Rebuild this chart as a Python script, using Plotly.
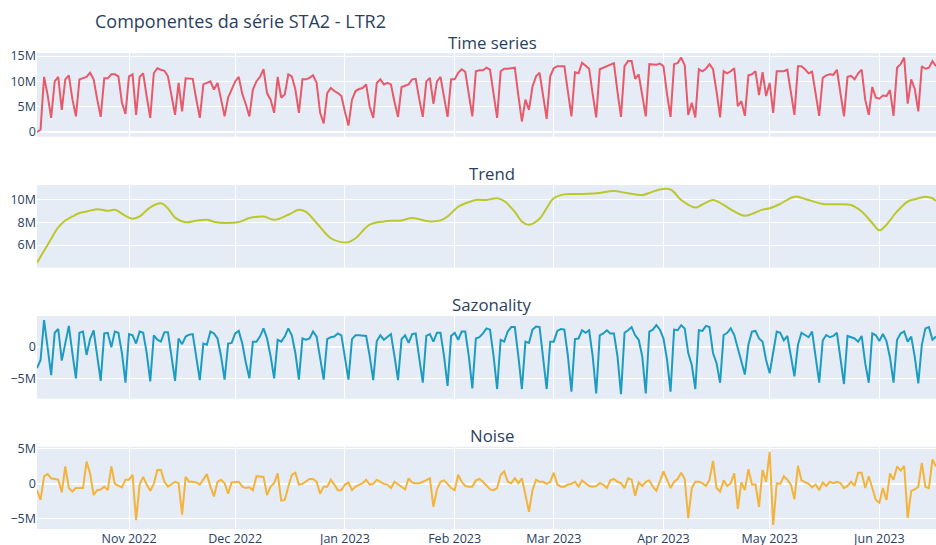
import pandas as pd
import plotly.graph_objects as go
from plotly.subplots import make_subplots

# Daily decomposition of the STA2 - LTR2 series (values in millions)
start_date = "2022-10-06"

observed = [
    0.0, 0.5, 10.9, 7.3, 2.8, 10.0, 10.9, 4.4, 10.4, 11.2,
    6.5, 3.1, 10.4, 10.7, 10.9, 11.7, 10.4, 6.5, 3.0, 10.6,
    10.6, 11.4, 11.4, 11.0, 5.8, 3.6, 11.0, 11.4, 3.4, 10.9,
    11.6, 7.0, 2.8, 11.6, 12.6, 12.3, 12.1, 11.0, 7.0, 3.4,
    9.7, 4.1, 10.6, 10.5, 10.5, 6.5, 2.8, 9.4, 9.7, 10.0,
    8.4, 9.7, 6.5, 3.1, 6.8, 8.4, 10.0, 10.9, 7.5, 5.5,
    3.1, 8.4, 10.0, 10.9, 12.4, 7.7, 6.4, 3.8, 10.9, 6.8,
    7.4, 11.4, 11.0, 8.4, 3.8, 10.4, 10.4, 10.7, 11.2, 9.7,
    3.8, 1.7, 7.7, 8.7, 8.1, 7.7, 7.1, 4.0, 1.3, 6.4,
    8.1, 8.5, 8.7, 9.4, 5.0, 2.8, 9.7, 10.4, 9.4, 9.7,
    9.4, 6.0, 3.0, 8.9, 9.2, 9.4, 10.4, 10.5, 6.5, 3.0,
    10.0, 10.7, 5.6, 10.0, 10.9, 7.0, 3.0, 10.4, 10.4, 11.7,
    12.4, 11.9, 7.0, 3.1, 12.0, 12.2, 12.2, 12.7, 12.3, 7.5,
    2.8, 12.0, 12.5, 12.5, 12.6, 12.7, 7.2, 2.1, 6.4, 4.4,
    9.0, 11.0, 11.7, 7.0, 2.6, 11.0, 12.6, 13.0, 13.0, 13.0,
    8.0, 3.1, 11.8, 11.6, 13.7, 13.0, 12.5, 7.5, 2.9, 12.4,
    12.7, 13.0, 13.2, 13.6, 8.0, 3.0, 13.0, 14.0, 14.0, 10.5,
    11.4, 7.0, 3.1, 13.4, 13.4, 13.3, 13.5, 13.0, 7.5, 3.0,
    13.4, 13.6, 14.7, 13.2, 3.4, 5.8, 2.9, 12.4, 12.0, 12.5,
    13.4, 12.4, 8.0, 2.9, 12.0, 11.6, 12.0, 12.6, 5.1, 6.1,
    3.2, 11.2, 11.4, 12.0, 7.3, 11.8, 7.1, 9.7, 3.8, 12.0,
    12.0, 12.0, 12.3, 8.0, 3.4, 13.0, 13.0, 12.4, 11.6, 11.9,
    7.5, 3.2, 10.7, 11.2, 11.4, 11.3, 12.3, 7.5, 3.1, 10.9,
    11.1, 10.4, 11.6, 12.3, 6.4, 3.4, 8.9, 6.8, 6.6, 7.2,
    7.1, 8.3, 3.2, 12.7, 13.4, 14.7, 5.6, 10.4, 8.5, 4.1,
    13.0, 12.5, 12.7, 14.0, 13.0,
]

# Trend is smooth, so it is kept as day offsets with values
trend_days = [
    0, 2, 4, 6, 8, 10, 12, 14, 17, 20, 22, 25, 27, 29, 32, 35, 37, 39, 42, 45,
    48, 50, 53, 57, 60, 64, 67, 71, 74, 76, 79, 83, 86, 88, 90, 94, 98, 103,
    106, 111, 114, 116, 119, 122, 124, 127, 130, 132, 135, 137, 139, 142, 144,
    146, 149, 153, 158, 163, 167, 171, 173, 176, 179, 182, 186, 188, 191, 194,
    197, 200, 203, 205, 207, 210, 214, 218, 222, 226, 230, 233, 236, 238, 240,
    243, 246, 248, 251, 253, 254,
]
trend_values = [
    4.47, 5.5, 6.55, 7.55, 8.15, 8.5, 8.8, 8.94, 9.14, 8.99, 9.08, 8.56, 8.3,
    8.5, 9.3, 9.65, 9.2, 8.4, 8.0, 8.13, 8.21, 8.05, 7.93, 8.01, 8.36, 8.5,
    8.21, 8.65, 9.08, 8.9, 7.93, 6.6, 6.26, 6.26, 6.6, 7.78, 8.07, 8.16, 8.36,
    8.07, 8.16, 8.5, 9.35, 9.75, 9.94, 9.94, 10.09, 9.85, 8.9, 8.07, 7.78,
    8.3, 9.22, 10.09, 10.43, 10.46, 10.52, 10.72, 10.52, 10.37, 10.55, 10.86,
    10.86, 9.94, 9.28, 9.55, 9.94, 9.51, 8.94, 8.56, 8.85, 9.1, 9.22, 9.6,
    10.23, 9.94, 9.6, 9.57, 9.51, 8.94, 7.93, 7.29, 7.78, 8.94, 9.8, 10.0,
    10.23, 10.09, 9.85,
]

seasonal = [
    -3.4, -2.1, 4.2, 0.0, -4.5, 2.2, 2.8, -2.2, 0.5, 3.3,
    -1.0, -5.0, 2.2, 2.4, -1.3, 1.2, 2.6, -1.5, -5.4, 2.1,
    2.2, -0.1, 2.4, 2.2, -1.0, -5.7, 2.0, 1.8, 0.5, 2.4,
    2.2, -1.0, -5.5, 1.8, 1.1, 0.8, 2.3, 2.3, -1.5, -5.4,
    1.3, 0.4, 1.6, 1.9, 2.0, -1.5, -5.3, 0.5, 0.3, 2.4,
    2.1, 1.3, -1.5, -5.2, 0.5, 0.6, 2.1, 2.5, 0.5, -2.5,
    -5.0, 0.8, 0.8, 1.6, 2.9, 1.3, -1.5, -5.0, 1.1, 0.8,
    1.6, 2.9, 1.8, -1.0, -5.2, 1.3, 1.1, 1.3, 2.4, 1.6,
    -1.5, -5.2, 1.2, 1.5, 1.6, 2.1, 1.8, -1.5, -5.2, 1.2,
    1.8, 1.8, 1.7, 1.7, -1.5, -5.3, 0.9, 1.8, 1.1, 1.6,
    2.0, -1.5, -5.3, 1.2, 1.8, 0.6, 2.0, 2.1, -1.5, -5.7,
    1.7, 2.0, 0.8, 2.2, 2.2, -1.5, -6.2, 1.7, 2.2, 1.1,
    2.4, 2.4, -1.5, -6.6, 1.3, 1.5, 2.1, 2.9, 2.7, -1.5,
    -6.7, 1.1, 0.8, 2.4, 3.1, 3.1, -1.5, -6.7, 0.8, 0.6,
    2.7, 3.2, 3.1, -1.5, -6.7, 0.8, 0.8, 2.5, 2.8, 2.7,
    -1.5, -7.1, 1.2, 1.3, 2.6, 2.2, 2.6, -1.5, -7.4, 1.8,
    2.1, 2.6, 2.1, 2.1, -1.5, -7.5, 2.2, 2.6, 3.1, 1.8,
    1.1, -1.5, -7.4, 2.4, 2.7, 3.4, 2.7, 1.3, -2.0, -7.1,
    2.7, 2.6, 3.4, 2.9, -1.0, -2.9, -6.7, 2.6, 2.5, 3.3,
    3.1, -1.0, -2.6, -5.7, 1.85, 2.2, 2.9, 1.85, -0.3, -2.4,
    -4.4, 0.3, 2.4, 2.5, 1.3, 0.8, -2.1, -4.2, -0.8, 2.4,
    2.2, 1.0, 1.7, -1.8, -4.7, 0.3, 2.2, 1.85, 1.5, 2.4,
    -1.6, -5.7, 1.0, 1.85, 1.5, 1.7, 2.2, -1.6, -5.9, 1.7,
    1.5, 1.3, 0.8, 1.7, -2.6, -5.7, 2.1, 1.8, 0.9, 2.0,
    0.9, -1.7, -5.7, 1.1, 2.1, 2.4, 0.8, 1.6, -1.6, -5.8,
    0.3, 2.9, 3.1, 1.1, 1.6,
]

residual = [
    -0.9, -2.3, 1.1, 1.4, 0.8, 0.7, 0.6, -1.2, 2.5, -0.6,
    -1.1, -0.6, -0.6, -0.6, 3.2, 1.5, -1.6, -0.9, -0.8, -0.4,
    -0.9, 2.5, 0.0, -0.3, -0.5, 0.6, 0.6, 1.3, -5.2, -0.1,
    1.0, -0.1, -1.0, 0.0, 2.0, 2.0, 0.3, -0.4, -0.1, 0.3,
    0.1, -4.4, 1.0, 0.3, 0.3, 0.2, -0.1, 0.6, 1.4, -0.4,
    -1.8, 0.3, 0.6, 0.1, -1.4, 0.2, 0.3, 0.3, -0.4, -0.6,
    -0.5, -0.9, 1.1, 1.0, 1.0, -1.6, -0.4, 0.1, 1.5, -2.4,
    -2.3, -0.4, 1.3, 1.6, -0.1, 0.0, 0.3, 0.7, 0.7, 0.3,
    -1.4, -0.4, -0.4, 0.6, -0.1, -0.9, -0.9, -0.1, 0.2, -0.9,
    -0.4, -0.1, 0.1, 0.6, -0.1, 0.0, 0.6, 0.3, 0.0, -0.1,
    -0.6, 0.3, -0.1, -0.4, -0.8, 0.8, 0.2, 0.1, 0.1, 0.3,
    0.5, 0.8, -3.3, -0.8, 0.3, 0.5, 0.0, -0.6, -0.9, 1.3,
    0.3, -0.3, -0.4, -0.4, 0.5, 0.7, 0.3, -0.3, -0.8, -0.9,
    -0.6, 1.3, 1.8, 0.3, 0.1, 0.8, 0.1, 0.8, -1.7, -4.0,
    -0.9, 0.6, 0.3, 0.3, 0.0, 0.3, 1.6, -0.1, -0.4, -0.4,
    -0.1, 0.0, 0.3, -0.4, 0.5, 0.1, -0.3, -0.4, -0.3, 0.1,
    -0.1, -0.6, 0.5, 0.7, 0.3, 0.1, -0.6, 0.8, 0.6, -1.7,
    0.2, -0.3, 0.3, 0.5, -0.4, -1.0, 0.3, 1.8, 0.6, -0.6,
    0.3, 0.7, 1.6, 0.7, -4.9, -0.6, 0.3, 0.3, 0.1, -0.3,
    0.6, 3.3, -0.6, -1.1, 0.5, -0.3, 0.1, 1.5, -3.6, 0.2,
    -0.9, 2.1, -0.1, -0.1, -3.3, 2.0, 0.3, 4.6, -5.9, 0.1,
    0.0, 1.1, 0.6, -0.1, -2.2, 2.6, 0.5, 0.2, 0.0, -0.5,
    -0.1, -0.9, 0.2, -0.3, 0.3, 0.1, 0.3, 0.1, -0.6, -0.3,
    0.3, -0.3, 1.6, 1.6, -0.6, 1.1, -0.6, -2.3, -2.7, -0.6,
    -2.3, 1.5, 0.6, 2.5, 1.9, 2.6, -4.9, -1.0, -0.8, -0.4,
    3.0, -0.4, -0.6, 3.5, 2.5,
]

panel_titles = ["Time series", "Trend", "Sazonality", "Noise"]
M = 1e6

dates = pd.date_range(start_date, periods=len(observed), freq="D")
trend_dates = pd.Timestamp(start_date) + pd.to_timedelta(trend_days, unit="D")

fig = make_subplots(rows=4, cols=1, shared_xaxes=True)

line_w = 2
fig.add_trace(go.Scatter(x=dates, y=[v * M for v in observed], mode="lines",
                         line=dict(color="#e8596a", width=line_w), name="Time series"),
              row=1, col=1)
fig.add_trace(go.Scatter(x=trend_dates, y=[v * M for v in trend_values], mode="lines",
                         line=dict(color="#bcc72c", width=line_w, shape="spline",
                                   smoothing=1.0), name="Trend"),
              row=2, col=1)
fig.add_trace(go.Scatter(x=dates, y=[v * M for v in seasonal], mode="lines",
                         line=dict(color="#1c9cc2", width=line_w), name="Sazonality"),
              row=3, col=1)
fig.add_trace(go.Scatter(x=dates, y=[v * M for v in residual], mode="lines",
                         line=dict(color="#f4b33a", width=line_w), name="Noise"),
              row=4, col=1)

domains = [[0.8242, 1.0], [0.549, 0.7227], [0.2737, 0.4475], [0.0, 0.1729]]
ranges = [[-0.9 * M, 15.6 * M], [4.03 * M, 11.25 * M],
          [-8.23 * M, 4.86 * M], [-6.47 * M, 5.33 * M]]
dticks = [5 * M, 2 * M, 5 * M, 5 * M]

for i in range(4):
    fig.update_yaxes(domain=domains[i], range=ranges[i], dtick=dticks[i],
                     automargin=False, tickfont=dict(size=12.5),
                     row=i + 1, col=1)

fig.update_xaxes(dtick="M1", tickformat="%b %Y", automargin=False,
                 tickfont=dict(size=12.5))

annotations = []
for title, dom in zip(panel_titles, domains):
    annotations.append(dict(text=title, x=0.5065, xref="paper", y=dom[1],
                            yref="paper", xanchor="center", yanchor="bottom",
                            yshift=-2.5, showarrow=False,
                            font=dict(size=16.8, color="#2a3f5f")))

fig.update_layout(
    template="plotly",
    width=936,
    height=545,
    margin=dict(l=37, r=0, t=53, b=16),
    showlegend=False,
    title=dict(text="Componentes da série STA2 - LTR2", x=95 / 936, xanchor="left",
               xref="container", y=1 - 22 / 545, yanchor="middle",
               font=dict(size=18, color="#2a3f5f")),
    annotations=annotations,
)

fig.write_html("out.html")
